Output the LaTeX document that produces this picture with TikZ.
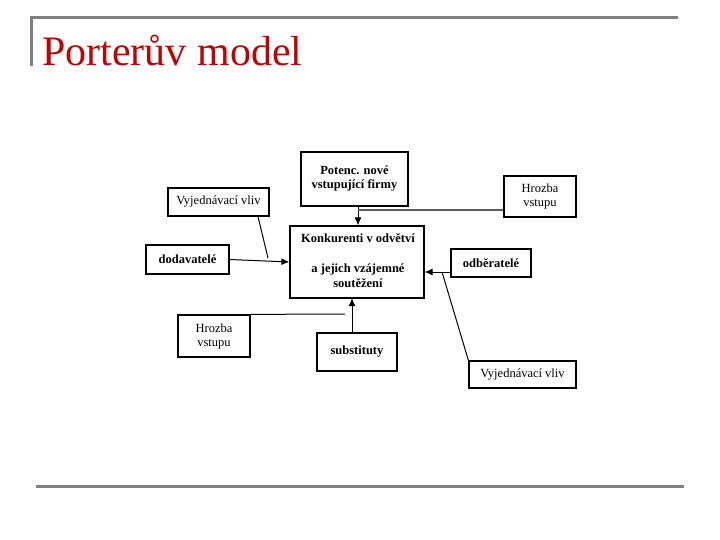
\documentclass[tikz,border=0pt]{standalone}
\usepackage{fontspec}
\setmainfont{Liberation Serif}
\usetikzlibrary{arrows.meta}
\definecolor{titlered}{RGB}{185,5,5}
\definecolor{rulegray}{RGB}{128,128,128}
\definecolor{linegray}{RGB}{95,95,95}
\begin{document}
\begin{tikzpicture}[x=1pt,y=-1pt,
  box/.style={draw=black,line width=1.2pt,inner sep=0pt,align=center,font=\fontsize{12.5}{14}\selectfont},
  boldbox/.style={box,font=\fontsize{12.5}{14}\selectfont\bfseries},
  conn/.style={line width=1pt},
  arr/.style={conn,-{Latex[length=8pt,width=7pt]}},
  frame/.style={rulegray,line width=3pt}]
\useasboundingbox (0,0) rectangle (720,540);
% frame rules
\draw[frame] (30,18) -- (678,18);
\draw[frame] (31,18) -- (31,66);
\draw[frame] (36,486) -- (684,486);
\node[anchor=base west,inner sep=0pt,text=titlered,font=\fontsize{42}{44}\selectfont] (title) at (42,66) {Porterův model};
% boxes
\node[boldbox,minimum width=107pt,minimum height=54pt] (pot) at (354.5,179) {Potenc. nové\\vstupující firmy};
\node[box,minimum width=72pt,minimum height=41pt] (hr1) at (540,196.5) {Hrozba\\vstupu};
\node[box,minimum width=101pt,minimum height=28pt] (vv1) at (218.5,202) {Vyjednávací vliv};
\node[draw=black,line width=1.2pt,minimum width=134pt,minimum height=72pt] (kon) at (357,262) {};
\node[font=\fontsize{12.5}{14}\selectfont\bfseries,inner sep=0pt] (kon1) at (358,238) {Konkurenti v odvětví};
\node[font=\fontsize{12.5}{14}\selectfont\bfseries,inner sep=0pt,align=center] (kon2) at (358,276) {a jejich vzájemné\\[1pt]soutěžení};
\node[boldbox,minimum width=83pt,minimum height=29pt] (dod) at (187.5,259.5) {dodavatelé};
\node[boldbox,minimum width=80pt,minimum height=28pt] (odb) at (491,263) {odběratelé};
\node[box,minimum width=72pt,minimum height=42pt] (hr2) at (214,336) {Hrozba\\vstupu};
\node[boldbox,minimum width=80pt,minimum height=38pt] (sub) at (357,352) {substituty};
\node[box,minimum width=107pt,minimum height=27pt] (vv2) at (522.5,374.5) {Vyjednávací vliv};
% junction coordinates
\coordinate (j1) at (358,210);
\coordinate (c1) at (268,258);
\coordinate (c2) at (442,272);
\coordinate (c3) at (345,314);
\coordinate (c4) at (352,298);
% connectors
\draw[arr] (pot.south -| j1) -- (kon.north -| j1);
\draw[linegray,line width=2.5pt] (j1) -- (j1 -| hr1.west);
\draw[arr] (dod.east) -- (kon.west);
\draw[conn] (vv1.south -| 258,0) -- (c1);
\draw[arr] (odb.west |- c2) -- (kon.east |- c2);
\draw[conn] (c2) -- (vv2.north west);
\draw[conn] (hr2.north east) -- (c3);
\draw[arr] (sub.north -| c4) -- (c4);
\end{tikzpicture}
\end{document}
